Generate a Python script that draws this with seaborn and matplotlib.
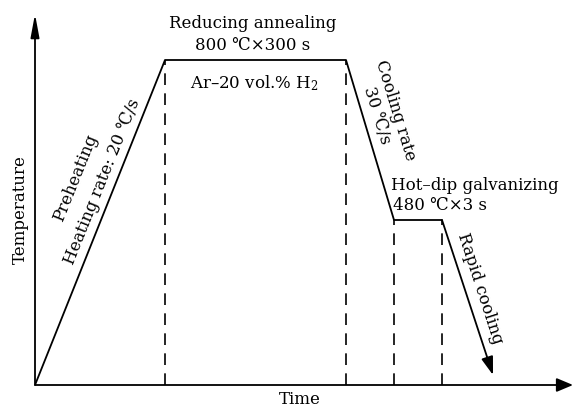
import matplotlib
matplotlib.use("Agg")
import matplotlib.pyplot as plt
import pandas as pd
import seaborn as sns

# schematic process route (arbitrary units: time vs temperature)
time = [0, 130, 311, 359, 407]
temp = [0, 325, 325, 165, 165]
rapid_end = (458, 10)
stage_times = [130, 311, 359, 407]
stage_temps = [325, 325, 165, 165]

sns.set_style("white")
plt.rcParams["font.family"] = ["DejaVu Serif", "DejaVu Sans"]
plt.rcParams["mathtext.fontset"] = "dejavuserif"
plt.rcParams["text.color"] = "black"

fig = plt.figure(figsize=(5.73, 4.07), dpi=100)
ax = fig.add_axes([35 / 573, 22 / 407, 538 / 573, 385 / 407])
ax.set_xlim(0, 538)
ax.set_ylim(0, 385)

df = pd.DataFrame({"time": time, "temp": temp})
sns.lineplot(data=df, x="time", y="temp", sort=False, color="black", lw=1.3, ax=ax)

# dashed stage markers
for t, T in zip(stage_times, stage_temps):
    ax.plot([t, t], [0, T], color="black", lw=1.2, dashes=(7, 5))


def arrow(start, end, hl, hw):
    ax.annotate("", xy=end, xytext=start, annotation_clip=False,
                arrowprops=dict(arrowstyle=f"-|>,head_length={hl},head_width={hw}",
                                color="black", lw=1.3, shrinkA=0, shrinkB=0))


arrow((time[-1], temp[-1]), rapid_end, 1.1, 0.36)
arrow((0, 0), (0, 371), 1.4, 0.26)
arrow((0, 0), (538, 0), 1.0, 0.42)

for s in ax.spines.values():
    s.set_visible(False)
ax.set_xticks([])
ax.set_yticks([])
ax.set_xlabel("")
ax.set_ylabel("")

fs = 12
kw = dict(ha="center", va="center", fontsize=fs, color="black",
          rotation_mode="anchor", clip_on=False)
ax.text(218, 361, "Reducing annealing", **kw)
ax.text(218, 339, "800 ℃×300 s", **kw)
ax.text(219, 302, "Ar–20 vol.% H$_2$", **kw)
ax.text(41, 207, "Preheating", rotation=68, **kw)
ax.text(67, 203, "Heating rate: 20 ℃/s", rotation=68, **kw)
ax.text(360, 275, "Cooling rate", rotation=-73, **kw)
ax.text(342, 270, "30 ℃/s", rotation=-73, **kw)
ax.text(440, 200, "Hot–dip galvanizing", **kw)
ax.text(405, 180, "480 ℃×3 s", **kw)
ax.text(445, 97, "Rapid cooling", rotation=-72, **kw)
ax.text(-15, 175, "Temperature", rotation=90, **kw)
ax.text(265, -14, "Time", **kw)

fig.savefig("out.png", dpi=100)
